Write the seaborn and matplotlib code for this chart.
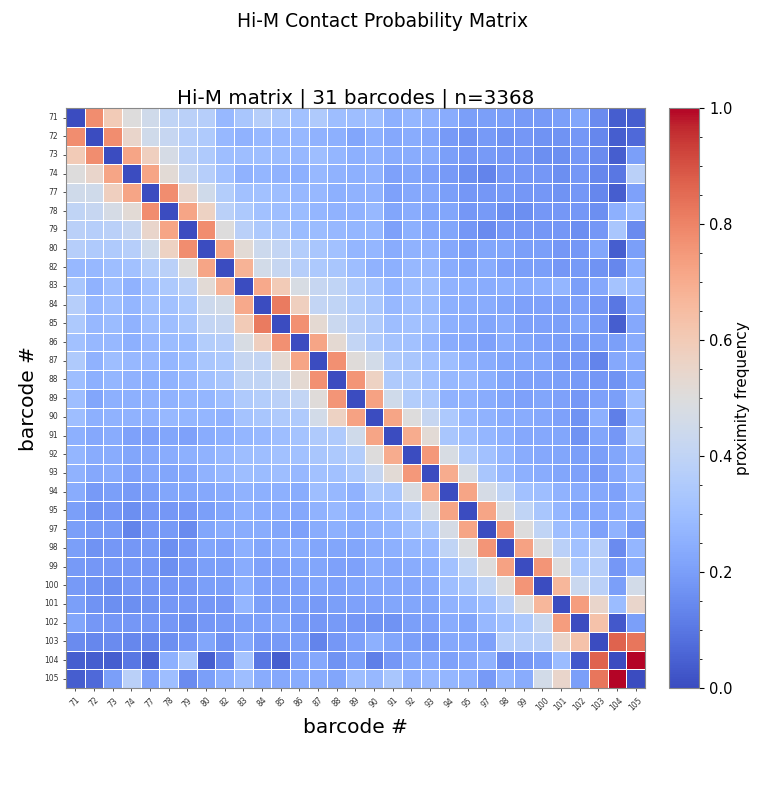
import numpy as np
import pandas as pd
import matplotlib
matplotlib.use('Agg')
import matplotlib.pyplot as plt
import seaborn as sns
from matplotlib.ticker import MultipleLocator

barcodes = [71, 72, 73, 74, 77, 78, 79, 80, 82, 83, 84, 85, 86, 87, 88, 89,
            90, 91, 92, 93, 94, 95, 97, 98, 99, 100, 101, 102, 103, 104, 105]

# upper triangle, row by row (values to the right of the diagonal)
row_71 = [0.78, 0.60, 0.50, 0.45, 0.40, 0.38, 0.37, 0.28, 0.33,
          0.37, 0.34, 0.31, 0.35, 0.30, 0.30, 0.30, 0.25, 0.27, 0.26,
          0.24, 0.20, 0.20, 0.20, 0.19, 0.19, 0.20, 0.22, 0.15, 0.04, 0.04]
row_72 = [0.78, 0.55, 0.45, 0.42, 0.37, 0.35, 0.28, 0.26,
          0.28, 0.28, 0.28, 0.26, 0.25, 0.22, 0.25, 0.23, 0.24, 0.23,
          0.19, 0.17, 0.19, 0.17, 0.18, 0.17, 0.17, 0.18, 0.14, 0.04, 0.07]
row_73 = [0.72, 0.58, 0.47, 0.38, 0.35, 0.30, 0.30,
          0.30, 0.29, 0.28, 0.30, 0.27, 0.25, 0.26, 0.24, 0.24, 0.24,
          0.20, 0.18, 0.19, 0.18, 0.18, 0.16, 0.16, 0.18, 0.15, 0.04, 0.20]
row_74 = [0.72, 0.52, 0.42, 0.37, 0.31, 0.26,
          0.27, 0.26, 0.25, 0.28, 0.26, 0.25, 0.26, 0.21, 0.22, 0.21,
          0.19, 0.16, 0.13, 0.18, 0.18, 0.18, 0.16, 0.18, 0.14, 0.10, 0.38]
row_77 = [0.78, 0.55, 0.45, 0.36, 0.31,
          0.31, 0.30, 0.28, 0.28, 0.25, 0.26, 0.26, 0.21, 0.23, 0.23,
          0.20, 0.18, 0.18, 0.19, 0.18, 0.18, 0.17, 0.18, 0.14, 0.04, 0.21]
row_78 = [0.72, 0.57, 0.38, 0.34,
          0.31, 0.30, 0.29, 0.27, 0.26, 0.26, 0.28, 0.22, 0.24, 0.22,
          0.22, 0.18, 0.19, 0.16, 0.16, 0.18, 0.18, 0.18, 0.16, 0.25, 0.30]
row_79 = [0.78, 0.50, 0.38,
          0.34, 0.33, 0.29, 0.29, 0.28, 0.27, 0.27, 0.21, 0.25, 0.23,
          0.22, 0.18, 0.15, 0.18, 0.18, 0.18, 0.18, 0.16, 0.18, 0.33, 0.15]
row_80 = [0.72, 0.52,
          0.44, 0.41, 0.36, 0.33, 0.31, 0.27, 0.27, 0.24, 0.26, 0.26,
          0.23, 0.20, 0.22, 0.22, 0.20, 0.20, 0.18, 0.18, 0.22, 0.04, 0.20]
row_82 = [0.68,
          0.46, 0.42, 0.37, 0.34, 0.33, 0.30, 0.26, 0.25, 0.28, 0.28,
          0.24, 0.22, 0.24, 0.21, 0.20, 0.20, 0.18, 0.19, 0.17, 0.14, 0.25]
row_83 = [0.71, 0.60, 0.48, 0.42, 0.40, 0.35, 0.32, 0.27, 0.30, 0.30,
          0.26, 0.25, 0.24, 0.25, 0.24, 0.25, 0.27, 0.20, 0.23, 0.32, 0.30]
row_84 = [0.82, 0.58, 0.41, 0.40, 0.36, 0.33, 0.28, 0.30, 0.29,
          0.25, 0.24, 0.24, 0.22, 0.21, 0.21, 0.20, 0.21, 0.18, 0.10, 0.24]
row_85 = [0.77, 0.53, 0.43, 0.38, 0.35, 0.30, 0.31, 0.30,
          0.25, 0.24, 0.22, 0.24, 0.21, 0.21, 0.20, 0.22, 0.19, 0.04, 0.23]
row_86 = [0.72, 0.53, 0.41, 0.35, 0.32, 0.31, 0.28,
          0.24, 0.23, 0.21, 0.24, 0.22, 0.21, 0.20, 0.19, 0.20, 0.20, 0.24]
row_87 = [0.77, 0.51, 0.46, 0.35, 0.33, 0.31,
          0.30, 0.26, 0.24, 0.22, 0.22, 0.22, 0.19, 0.18, 0.13, 0.23, 0.24]
row_88 = [0.76, 0.57, 0.35, 0.34, 0.31,
          0.28, 0.28, 0.25, 0.22, 0.21, 0.21, 0.20, 0.19, 0.18, 0.17, 0.22]
row_89 = [0.73, 0.45, 0.36, 0.34,
          0.26, 0.26, 0.24, 0.22, 0.21, 0.22, 0.21, 0.18, 0.21, 0.20, 0.30]
row_90 = [0.72, 0.50, 0.42,
          0.34, 0.28, 0.26, 0.24, 0.24, 0.23, 0.21, 0.17, 0.25, 0.12, 0.28]
row_91 = [0.70, 0.52,
          0.33, 0.30, 0.27, 0.25, 0.23, 0.23, 0.22, 0.17, 0.22, 0.18, 0.33]
row_92 = [0.75,
          0.48, 0.35, 0.31, 0.27, 0.24, 0.23, 0.22, 0.20, 0.20, 0.22, 0.26]
row_93 = [0.70, 0.48, 0.33, 0.28, 0.25, 0.24, 0.22, 0.21, 0.19, 0.23, 0.28]
row_94 = [0.72, 0.47, 0.40, 0.31, 0.30, 0.26, 0.24, 0.23, 0.21, 0.27]
row_95 = [0.72, 0.49, 0.40, 0.33, 0.27, 0.22, 0.23, 0.23, 0.26]
row_97 = [0.76, 0.50, 0.40, 0.30, 0.28, 0.21, 0.26, 0.19]
row_98 = [0.73, 0.50, 0.38, 0.31, 0.37, 0.15, 0.27]
row_99 = [0.76, 0.50, 0.34, 0.37, 0.18, 0.24]
row_100 = [0.67, 0.43, 0.38, 0.20, 0.46]
row_101 = [0.74, 0.55, 0.29, 0.55]
row_102 = [0.63, 0.03, 0.20]
row_103 = [0.87, 0.83]
row_104 = [1.00]

upper_rows = [row_71, row_72, row_73, row_74, row_77, row_78, row_79, row_80,
              row_82, row_83, row_84, row_85, row_86, row_87, row_88, row_89,
              row_90, row_91, row_92, row_93, row_94, row_95, row_97, row_98,
              row_99, row_100, row_101, row_102, row_103, row_104]

n = len(barcodes)
mat = np.zeros((n, n))
for i, vals in enumerate(upper_rows):
    mat[i, i + 1:] = vals
mat = mat + mat.T

df = pd.DataFrame(mat, index=barcodes, columns=barcodes)

fig = plt.figure(figsize=(7.66, 7.90), dpi=100)
ax = fig.add_axes([0.086, 0.129, 0.756, 0.734])
cax = fig.add_axes([0.874, 0.129, 0.039, 0.734])

sns.heatmap(df, ax=ax, cbar_ax=cax, cmap='coolwarm', vmin=0, vmax=1,
            linewidths=0.5, linecolor='white', square=False)

ax.set_xticks(np.arange(n) + 0.5)
ax.set_xticklabels(barcodes, rotation=45, fontsize=5.5)
ax.set_yticks(np.arange(n) + 0.5)
ax.set_yticklabels(barcodes, rotation=0, fontsize=5.5)
ax.tick_params(length=2, width=0.6, colors='#333333')
for s in ax.spines.values():
    s.set_visible(True)
    s.set_color('#888888')
    s.set_linewidth(0.8)

ax.set_xlabel('barcode #', fontsize=14.5)
ax.set_ylabel('barcode #', fontsize=14.5)
ax.set_title('Hi-M matrix | 31 barcodes | n=3368', fontsize=14.3, pad=2)
fig.suptitle('Hi-M Contact Probability Matrix', fontsize=13.5, y=0.985)

cax.yaxis.set_major_locator(MultipleLocator(0.2))
cax.yaxis.set_minor_locator(MultipleLocator(0.05))
cax.tick_params(labelsize=10.5)
cax.set_ylabel('proximity frequency', fontsize=11, labelpad=2)
cbar = ax.collections[0].colorbar
cbar.outline.set_visible(True)
cbar.outline.set_edgecolor('#888888')
cbar.outline.set_linewidth(0.8)

fig.savefig('out.png', dpi=100)
